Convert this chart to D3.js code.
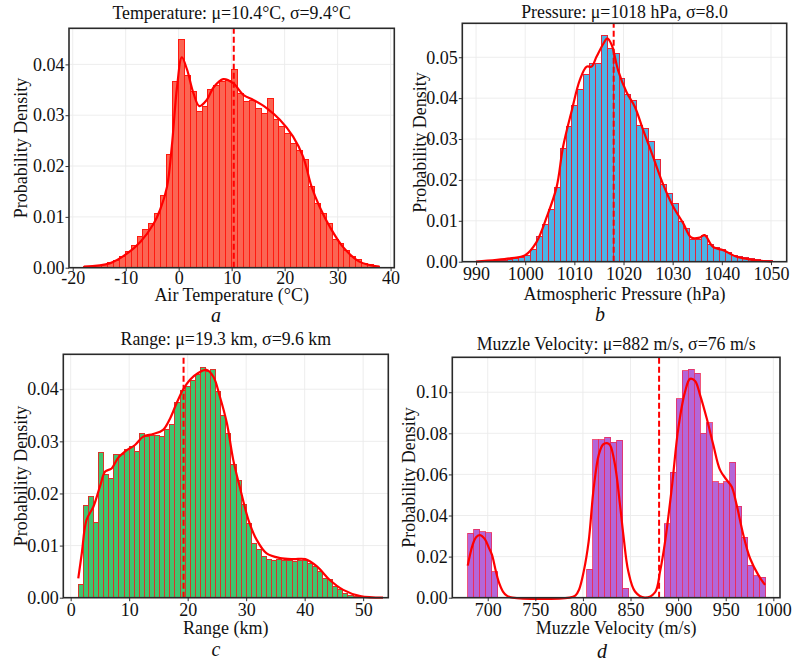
<!DOCTYPE html>
<html><head><meta charset="utf-8">
<script src="https://cdn.jsdelivr.net/npm/d3@7"></script>
<style>
body{margin:0;background:#fff}
svg{display:block}
text{font-family:"Liberation Serif","Times New Roman",serif;fill:#111}
</style>
</head><body>
<svg id="chart" width="798" height="663"></svg>
<script>
// ---------------- DATA ----------------
// Temperature histogram (50 bins)
const tempBinStart = -17.9, tempBinWidth = 1.116;
const tempDensity = [0.0002,0.0003,0.0005,0.0007,0.0010,0.0015,0.0023,0.0031,0.0043,0.0061,
  0.0076,0.0087,0.0107,0.0142,0.0223,0.0366,0.0448,0.0378,0.0346,0.0307,
  0.0318,0.0350,0.0358,0.0366,0.0368,0.0389,0.0343,0.0327,0.0329,0.0314,
  0.0304,0.0333,0.0291,0.0278,0.0265,0.0245,0.0230,0.0213,0.0160,0.0127,
  0.0107,0.0086,0.0055,0.0048,0.0033,0.0022,0.0017,0.0009,0.0006,0.0003];
const tempKdeX = [-17.9,-12.9,-9.7,-7.2,-4.7,-3.5,-2.2,-1.3,-0.3,0.6,1.6,2.8,3.9,5.3,6.6,8.4,10.3,12.2,14.1,16.6,19.1,21.6,23.5,25.1,26.6,28.5,31.0,34.1,37.9];
const tempKdeY = [0.0002,0.0009,0.0028,0.0051,0.0087,0.0114,0.0159,0.0238,0.0356,0.0414,0.0389,0.0343,0.0318,0.0330,0.0355,0.0371,0.0363,0.0340,0.0330,0.0314,0.0291,0.0258,0.0218,0.0159,0.0120,0.0081,0.0041,0.0012,0.0002];
const tempMean = 10.4;

// Pressure histogram (50 bins)
const pressBinStart = 990.3, pressBinWidth = 1.2;
const pressDensity = [0.0001,0.0001,0.0002,0.0003,0.0004,0.0006,0.0008,0.0011,0.0016,0.0029,
  0.0061,0.0092,0.0128,0.0182,0.0276,0.0330,0.0382,0.0421,0.0458,0.0485,
  0.0485,0.0552,0.0521,0.0508,0.0448,0.0410,0.0395,0.0332,0.0325,0.0293,
  0.0250,0.0188,0.0167,0.0143,0.0099,0.0082,0.0055,0.0055,0.0063,0.0042,
  0.0034,0.0029,0.0022,0.0016,0.0012,0.0011,0.0008,0.0006,0.0004,0.0002];
const pressKdeX = [990,996.9,1000,1002.3,1004.4,1006.4,1007.7,1009.5,1011.1,1012.5,1013.5,1014.5,1015.9,1016.7,1017.6,1018.9,1020.6,1022.3,1024,1026,1028.1,1030.1,1032.1,1033.8,1035.5,1036.5,1038.2,1040.3,1043,1046.4,1050.2];
const pressKdeY = [0.0,0.0008,0.0016,0.0048,0.0110,0.0183,0.0281,0.0371,0.0444,0.0477,0.0477,0.0501,0.0533,0.0546,0.0530,0.0468,0.0415,0.0379,0.0322,0.0257,0.0188,0.0135,0.0095,0.0059,0.0059,0.0065,0.0036,0.0028,0.0012,0.0004,0.0];
const pressMean = 1018;

// Range histogram (60 bins)
const rangeBinStart = 1.3, rangeBinWidth = 0.87;
const rangeDensity = [0.0026,0.0177,0.0195,0.0145,0.0278,0.0237,0.0229,0.0274,0.0274,0.0285,
  0.0290,0.0280,0.0316,0.0309,0.0311,0.0312,0.0310,0.0322,0.0332,0.0375,
  0.0397,0.0405,0.0416,0.0429,0.0442,0.0434,0.0437,0.0395,0.0349,0.0316,
  0.0255,0.0225,0.0178,0.0143,0.0104,0.0092,0.0079,0.0074,0.0071,0.0073,
  0.0071,0.0072,0.0069,0.0072,0.0072,0.0066,0.0060,0.0051,0.0037,0.0034,
  0.0021,0.0015,0.0008,0.0004,0.0002,0.0002,0.0001,0.0001,0.0001,0.00005];
const rangeKdeX = [1.3,1.9,2.7,3.9,5.0,5.9,7.0,8.1,9.6,11.0,12.4,14.1,15.8,17.0,18.1,19.2,20.4,21.8,23.2,24.4,25.5,26.7,27.8,28.9,30.4,31.8,33.5,35.8,38.1,40.1,42.1,44.3,46.6,49.5,53.4];
const rangeKdeY = [0.0037,0.0085,0.0149,0.0175,0.0213,0.0242,0.0248,0.0268,0.0283,0.0293,0.0309,0.0314,0.0322,0.0344,0.0373,0.0399,0.0418,0.0431,0.0437,0.0424,0.0386,0.0335,0.0264,0.0213,0.0149,0.0111,0.0085,0.0076,0.0074,0.0074,0.0060,0.0034,0.0015,0.0003,0.0];
const rangeMean = 19.3;

// Muzzle velocity histogram (50 bins)
const velBinStart = 679, velBinWidth = 6.26;
const velDensity = [0.0314,0.0333,0.0320,0.0315,0.0127,0,0,0,0,0,
  0,0,0,0,0,0,0,0,0,0,
  0.0138,0.0768,0.0768,0.0781,0.0757,0.0766,0.0046,0,0,0,
  0,0,0,0.0360,0.0610,0.0969,0.1105,0.1112,0.1092,0.0800,
  0.0852,0.0565,0.0555,0.0565,0.0659,0.0446,0.0294,0.0158,0.0106,0.0099];
const velKdeX = [679,684,688,692,697,701,704.5,708,711.5,716,720,726,786,792,796,800.8,806,811.3,816.6,821,825.3,828.5,833.7,839,842.5,847.7,854.7,865,875.7,881,886.3,893.3,900.2,907.3,912.5,917.8,923,930,937,944,951,956.3,961.5,968.5,975.5,984.3,991.3];
const velKdeY = [0.0156,0.0255,0.0295,0.0305,0.0285,0.0245,0.0208,0.0140,0.0078,0.0030,0.0010,0.0,0.0,0.0010,0.0040,0.0127,0.0273,0.0533,0.0695,0.0745,0.0752,0.0743,0.0646,0.0451,0.0305,0.0127,0.0030,0.0,0.0026,0.0127,0.0273,0.0533,0.0825,0.1003,0.1065,0.1055,0.0987,0.0873,0.0743,0.0622,0.0573,0.0540,0.0451,0.0305,0.0192,0.0110,0.0062];
const velMean = 880;

// Tick labels / texts
const tempXTicks = [-20,-10,0,10,20,30,40];
const pressXTicks = [990,1000,1010,1020,1030,1040,1050];
const rangeXTicks = [0,10,20,30,40,50];
const velXTicks = [700,750,800,850,900,950,1000];
const tempYTicks = [0,0.01,0.02,0.03,0.04];
const pressYTicks = [0,0.01,0.02,0.03,0.04,0.05];
const rangeYTicks = [0,0.01,0.02,0.03,0.04];
const velYTicks = [0,0.02,0.04,0.06,0.08,0.10];
const titles = ["Temperature: μ=10.4°C, σ=9.4°C","Pressure: μ=1018 hPa, σ=8.0","Range: μ=19.3 km, σ=9.6 km","Muzzle Velocity: μ=882 m/s, σ=76 m/s"];
const xLabels = ["Air Temperature (°C)","Atmospheric Pressure (hPa)","Range (km)","Muzzle Velocity (m/s)"];
const panelLetters = ["a","b","c","d"];

// ---------------- LAYOUT ----------------
const layouts = [
  {x0:69, x1:394.3, y0:28.3, y1:267.7, xd:[-20.7,40.7], ymax:0.0471, titleY:19, tickPad:0, xlabY:301, ylabX:21, letX:216, letY:322,
   fill:"#fb6553", edge:"#ff1a10", ew:1},
  {x0:462.3, x1:786.7, y0:23.3, y1:261.7, xd:[987.2,1053.2], ymax:0.0583, titleY:18, tickPad:2.5, xlabY:300, ylabX:420, letX:600, letY:321,
   fill:"#4cb3e6", edge:"#e3243a", ew:1},
  {x0:63.3, x1:388.3, y0:354.3, y1:597.7, xd:[-1.26,54.3], ymax:0.0467, titleY:345, tickPad:2, xlabY:634, ylabX:21, letX:216, letY:656,
   fill:"#3fc56f", edge:"#d8342a", ew:1},
  {x0:452.3, x1:780, y0:357.3, y1:597.7, xd:[662.8,1007], ymax:0.117, titleY:350, tickPad:2, xlabY:634, ylabX:408.5, letX:602, letY:658,
   fill:"#b466d8", edge:"#ec2a5a", ew:0.8}
];

const datasets = [
  {start:tempBinStart, w:tempBinWidth, dens:tempDensity, kx:tempKdeX, ky:tempKdeY, mean:tempMean, xt:tempXTicks, yt:tempYTicks},
  {start:pressBinStart, w:pressBinWidth, dens:pressDensity, kx:pressKdeX, ky:pressKdeY, mean:pressMean, xt:pressXTicks, yt:pressYTicks},
  {start:rangeBinStart, w:rangeBinWidth, dens:rangeDensity, kx:rangeKdeX, ky:rangeKdeY, mean:rangeMean, xt:rangeXTicks, yt:rangeYTicks},
  {start:velBinStart, w:velBinWidth, dens:velDensity, kx:velKdeX, ky:velKdeY, mean:velMean, xt:velXTicks, yt:velYTicks}
];

const svg = d3.select("#chart");

datasets.forEach((ds, i) => {
  const L = layouts[i];
  const g = svg.append("g");
  const x = d3.scaleLinear().domain(L.xd).range([L.x0, L.x1]);
  const y = d3.scaleLinear().domain([0, L.ymax]).range([L.y1, L.y0]);

  // grid
  g.append("g").selectAll("line").data(ds.xt).join("line")
    .attr("x1", d => x(d)).attr("x2", d => x(d)).attr("y1", L.y0).attr("y2", L.y1)
    .attr("stroke", "#ebebeb").attr("stroke-width", 0.9);
  g.append("g").selectAll("line").data(ds.yt).join("line")
    .attr("y1", d => y(d)).attr("y2", d => y(d)).attr("x1", L.x0).attr("x2", L.x1)
    .attr("stroke", "#ebebeb").attr("stroke-width", 0.9);

  // bars
  const bins = ds.dens.map((v, k) => ({x0: ds.start + k * ds.w, x1: ds.start + (k + 1) * ds.w, v}))
    .filter(b => b.v > 0);
  g.append("g").attr("shape-rendering", "crispEdges").selectAll("rect").data(bins).join("rect")
    .attr("x", d => x(d.x0)).attr("width", d => x(d.x1) - x(d.x0))
    .attr("y", d => y(d.v)).attr("height", d => y(0) - y(d.v))
    .attr("fill", L.fill).attr("stroke", L.edge).attr("stroke-width", L.ew);

  // KDE
  const pts = ds.kx.map((v, k) => [v, ds.ky[k]]);
  g.append("path").datum(pts)
    .attr("d", d3.line().x(d => x(d[0])).y(d => y(d[1])).curve(d3.curveCatmullRom.alpha(0.5)))
    .attr("fill", "none").attr("stroke", "#ff0000").attr("stroke-width", 2.2);

  // mean line
  g.append("line").attr("x1", x(ds.mean)).attr("x2", x(ds.mean)).attr("y1", L.y1).attr("y2", L.y0)
    .attr("stroke", "#ff0000").attr("stroke-width", 2).attr("stroke-dasharray", "6,3");

  // axes
  const xa = g.append("g").attr("transform", `translate(0,${L.y1})`)
    .call(d3.axisBottom(x).tickValues(ds.xt).tickSize(3.5).tickPadding(L.tickPad).tickFormat(d => String(d)));
  const ya = g.append("g").attr("transform", `translate(${L.x0},0)`)
    .call(d3.axisLeft(y).tickValues(ds.yt).tickSize(3.5).tickPadding(1).tickFormat(d3.format(".2f")));
  [xa, ya].forEach(a => {
    a.select(".domain").remove();
    a.selectAll(".tick line").attr("stroke", "#333").attr("stroke-width", 1);
    a.selectAll(".tick text").attr("font-size", 18).attr("font-family", "Liberation Serif").attr("fill", "#111");
  });

  // frame
  g.append("rect").attr("x", L.x0).attr("y", L.y0).attr("width", L.x1 - L.x0).attr("height", L.y1 - L.y0)
    .attr("fill", "none").attr("stroke", "#2a2a2a").attr("stroke-width", 1.6);

  // texts
  const cx = (L.x0 + L.x1) / 2;
  g.append("text").attr("x", cx).attr("y", L.titleY).attr("text-anchor", "middle").attr("font-size", 17.8).text(titles[i]);
  g.append("text").attr("x", cx).attr("y", L.xlabY).attr("text-anchor", "middle").attr("font-size", 18).text(xLabels[i]);
  g.append("text").attr("transform", `translate(${L.ylabX},${(L.y0 + L.y1) / 2}) rotate(-90)`)
    .attr("text-anchor", "middle").attr("dy", "0.35em").attr("font-size", 18).text("Probability Density");
  g.append("text").attr("x", L.letX).attr("y", L.letY).attr("text-anchor", "middle")
    .attr("font-size", 20).attr("font-style", "italic").text(panelLetters[i]);
});
</script>
</body></html>
